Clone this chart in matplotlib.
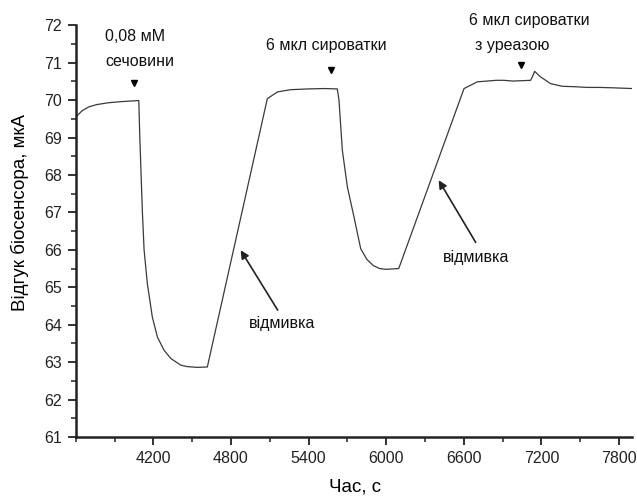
import matplotlib
matplotlib.use("Agg")
import matplotlib.pyplot as plt
from matplotlib.ticker import MultipleLocator

plt.rcParams['font.family'] = ['Liberation Sans', 'DejaVu Sans']

# time (s) and biosensor response (uA)
time_s = [3600, 3650, 3700, 3760, 3850, 3950, 4040, 4087,
          4095, 4105, 4115, 4128, 4153, 4192, 4231, 4282, 4334, 4411, 4462, 4540, 4617,
          5081, 5159, 5262, 5400, 5520, 5622,
          5635, 5661, 5700, 5751, 5803, 5850, 5900, 5950, 6000, 6097,
          6602, 6705, 6780, 6850, 6911, 6980, 7050, 7117,
          7130, 7148, 7194, 7272, 7362, 7450, 7556, 7650, 7750, 7903]
response = [69.55, 69.72, 69.82, 69.88, 69.93, 69.96, 69.98, 69.99,
            69.0, 68.0, 67.0, 66.0, 65.1, 64.2, 63.67, 63.32, 63.1, 62.92, 62.88, 62.86, 62.87,
            70.04, 70.22, 70.28, 70.30, 70.31, 70.30,
            70.0, 68.66, 67.68, 66.88, 66.03, 65.75, 65.58, 65.5, 65.48, 65.5,
            70.31, 70.49, 70.51, 70.53, 70.53, 70.51, 70.52, 70.53,
            70.62, 70.77, 70.62, 70.44, 70.37, 70.36, 70.34, 70.34, 70.33, 70.31]

# injection marks (triangles)
mark_x = [4050, 5571, 7040]
mark_y = [70.45, 70.8, 70.93]

# text labels
label_texts = ["0,08 мМ", "сечовини", "6 мкл сироватки", "6 мкл сироватки", "з уреазою"]
label_x = [3823, 3831, 5540, 7109, 6978]
label_y = [71.71, 71.04, 71.47, 72.13, 71.47]
label_ha = ["left", "left", "center", "center", "center"]

# washing annotations
wash_text = "відмивка"
wash_text_x = [5192, 6692]
wash_text_y = [64.04, 65.80]
wash_head_x = [4875, 6406]
wash_head_y = [65.99, 67.86]
wash_tail_x = [5161, 6692]
wash_tail_y = [64.39, 66.20]

xticks = [4200, 4800, 5400, 6000, 6600, 7200, 7800]
yticks = list(range(61, 73))

fig = plt.figure(figsize=(6.37, 4.96), dpi=100)
ax = fig.add_axes([0.119, 0.119, 0.873, 0.83])

ax.plot(time_s, response, color='#3a3a3a', lw=0.9)
ax.plot(mark_x, mark_y, linestyle='none', marker='v', color='black', markersize=5)

for t, x, y, ha in zip(label_texts, label_x, label_y, label_ha):
    ax.text(x, y, t, ha=ha, va='center', fontsize=11.5, clip_on=False, color='#111111')

for tx, ty, hx, hy, sx, sy in zip(wash_text_x, wash_text_y, wash_head_x, wash_head_y,
                                  wash_tail_x, wash_tail_y):
    ax.annotate('', xy=(hx, hy), xytext=(sx, sy),
                arrowprops=dict(arrowstyle='-|>', color='#222222', lw=1.2,
                                mutation_scale=12, shrinkA=0, shrinkB=0))
    ax.text(tx, ty, wash_text, ha='center', va='center', fontsize=11.5, color='#111111')

ax.set_xlim(3600, 7900)
ax.set_ylim(61, 72)
ax.set_xticks(xticks)
ax.set_yticks(yticks)
ax.xaxis.set_minor_locator(MultipleLocator(300))
ax.yaxis.set_minor_locator(MultipleLocator(0.5))

ax.spines['top'].set_visible(False)
ax.spines['right'].set_visible(False)
for s in ['left', 'bottom']:
    ax.spines[s].set_linewidth(1.8)
    ax.spines[s].set_color('#222222')
ax.tick_params(which='major', direction='out', length=6, width=1.3, labelsize=11.5,
               colors='#222222', pad=4)
ax.tick_params(which='minor', direction='out', length=3.5, width=1.1, colors='#222222')

ax.set_xlabel("Час, с", fontsize=13.5, va='center')
ax.xaxis.set_label_coords(0.502, -0.122)
ax.set_ylabel("Відгук біосенсора, мкА", fontsize=13.5, va='center')
ax.yaxis.set_label_coords(-0.101, 0.545)

fig.savefig("out.png", dpi=100)
